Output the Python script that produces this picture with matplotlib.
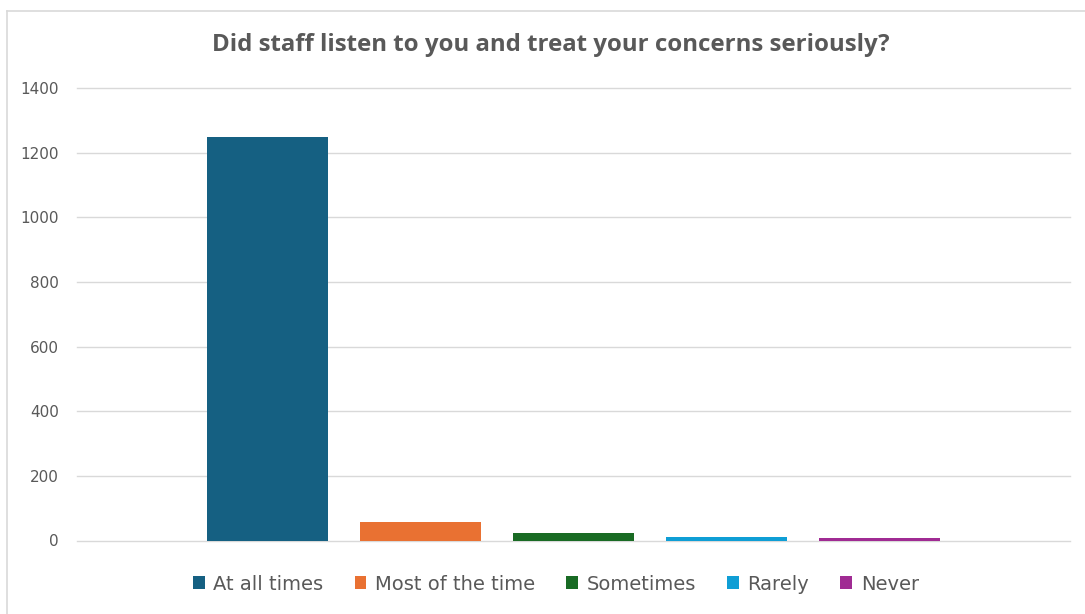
import matplotlib
matplotlib.use("Agg")
import matplotlib.pyplot as plt
from matplotlib.lines import Line2D

title = "Did staff listen to you and treat your concerns seriously?"
series = ["At all times", "Most of the time", "Sometimes", "Rarely", "Never"]
values = [1247, 58, 24, 10, 8]
colors = ["#156082", "#E97132", "#196B24", "#0F9ED5", "#A02B93"]
yticks = [0, 200, 400, 600, 800, 1000, 1200, 1400]

TEXT = "#595959"
GRID = "#D9D9D9"
W, H = 1085, 614
fig = plt.figure(figsize=(W / 100, H / 100), dpi=100)
fig.patch.set_facecolor("white")

# chart border (top and left visible)
fig.add_artist(Line2D([6.5 / W, 1], [1 - 10.5 / H, 1 - 10.5 / H], color=GRID, lw=1.2))
fig.add_artist(Line2D([6.5 / W, 6.5 / W], [0, 1 - 10.5 / H], color=GRID, lw=1.2))

ax = fig.add_axes([77 / W, 1 - 540.5 / H, (1070 - 77) / W, (540.5 - 88) / H])
step = 153 / 993
width = 121 / 993
for i, (s, v, c) in enumerate(zip(series, values, colors)):
    ax.bar((i - 2) * step, v, width=width, color=c, label=s, zorder=3)

ax.set_xlim(-0.5, 0.5)
ax.set_ylim(0, 1400)
ax.set_yticks(yticks)
ax.set_yticklabels([str(t) for t in yticks], fontsize=11, color=TEXT,
                   family=["DejaVu Sans"])
ax.tick_params(axis="y", length=0, pad=13)
ax.set_xticks([])
ax.grid(axis="y", color=GRID, lw=1, zorder=0)
for gl in ax.get_ygridlines():
    gl.set_clip_on(False)
for sp in ax.spines.values():
    sp.set_visible(False)

t = fig.text(551 / W, 1 - 45 / H, title, ha="center", va="center", fontsize=15.5,
             fontweight="bold", color=TEXT, family=["Open Sans", "DejaVu Sans"])
# fit title width to about 678 px
r = fig.canvas.get_renderer()
bw = t.get_window_extent(r).width
t.set_fontsize(15.5 * 678 / bw)

handles, labels = ax.get_legend_handles_labels()
leg = fig.legend(handles, labels, loc="center", bbox_to_anchor=(556 / W, 1 - 584 / H),
                 ncol=5, frameon=False, handlelength=0.6, handleheight=0.6,
                 handletextpad=0.45, columnspacing=1.6,
                 prop={"family": ["DejaVu Sans"], "size": 14})
for tx in leg.get_texts():
    tx.set_color(TEXT)

fig.savefig("out.png", dpi=100, facecolor="white")
